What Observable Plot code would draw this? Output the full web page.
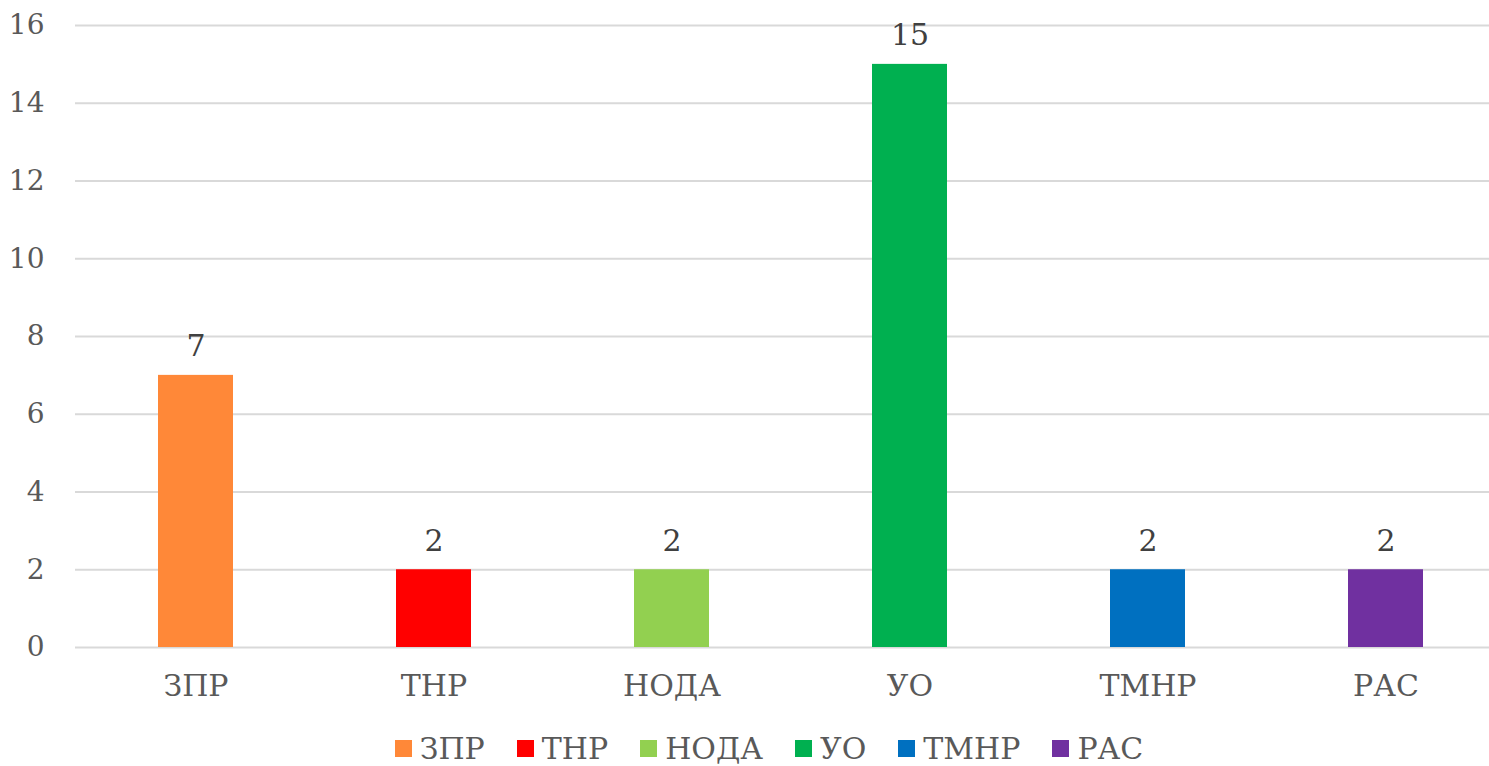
<!DOCTYPE html>
<html><head><meta charset="utf-8">
<script src="https://cdn.jsdelivr.net/npm/d3@7"></script>
<script src="https://cdn.jsdelivr.net/npm/@observablehq/plot@0.6"></script>
<style>
body{margin:0;background:#fff;overflow:hidden;font-family:"DejaVu Serif",serif;}
#legend{display:flex;justify-content:center;align-items:center;width:1538px;height:36px;padding-top:5px;gap:32px;color:#595959;font-size:30px;}
.item{display:flex;align-items:center;gap:8px}
.sw{width:17px;height:17px;display:inline-block}
</style></head><body>
<div id="chart"></div><div id="legend"></div>
<script>
const categories = ["ЗПР","ТНР","НОДА","УО","ТМНР","РАС"];
const values = [7,2,2,15,2,2];
const colors = ["#FF8838","#FF0000","#92D050","#00B050","#0070C0","#7030A0"];
const yTicks = [0,2,4,6,8,10,12,14,16];
const data = categories.map((c,i)=>({category:c, value:values[i]}));
const plot = Plot.plot({
  width:1489, height:725, marginTop:25, marginBottom:78, marginLeft:75, marginRight:0,
  style:{fontFamily:"'DejaVu Serif', serif", fontSize:"28px", color:"#595959", background:"#fff", overflow:"hidden"},
  x:{domain:categories, range:[75,1506], paddingInner:0.685, paddingOuter:0.3425, label:null},
  y:{domain:[0,16], label:null},
  color:{domain:categories, range:colors},
  marks:[
    Plot.gridY(yTicks,{stroke:"#D9D9D9", strokeOpacity:1, strokeWidth:2}),
    Plot.barY(data,{x:"category", y:"value", fill:"category"}),
    Plot.text(data,{x:"category", y:"value", text:d=>String(d.value), lineAnchor:"bottom", dy:-19, fill:"#404040", fontSize:30}),
    Plot.axisX({tickSize:0, tickPadding:27, fontSize:30, label:null}),
    Plot.axisY(yTicks,{tickSize:0, tickPadding:31, fontSize:28, label:null})
  ]
});
document.getElementById("chart").appendChild(plot);
const lg = document.getElementById("legend");
categories.forEach((c,i)=>{
  const it = document.createElement("div"); it.className="item";
  const sw = document.createElement("span"); sw.className="sw"; sw.style.background=colors[i];
  const tx = document.createElement("span"); tx.textContent=c;
  it.appendChild(sw); it.appendChild(tx); lg.appendChild(it);
});
</script>
</body></html>
